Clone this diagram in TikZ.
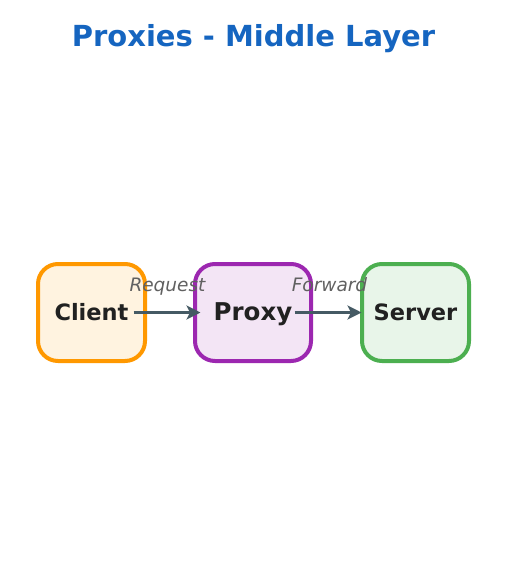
\documentclass[tikz,border=0pt]{standalone}
\usepackage{fontspec}
\setmainfont{DejaVu Sans}
\usetikzlibrary{arrows.meta}
\definecolor{titleblue}{HTML}{1565C0}
\definecolor{clientfill}{HTML}{FFF3E0}
\definecolor{clientdraw}{HTML}{FF9800}
\definecolor{proxyfill}{HTML}{F3E5F5}
\definecolor{proxydraw}{HTML}{9C27B0}
\definecolor{serverfill}{HTML}{E8F5E9}
\definecolor{serverdraw}{HTML}{4CAF50}
\definecolor{arrowcol}{HTML}{455A64}
\definecolor{textcol}{HTML}{212121}
\definecolor{lblcol}{HTML}{616161}
\tikzset{
  box/.style={draw, line width=4pt, rounded corners=20pt, inner sep=0pt,
    minimum height=97pt, text height=16pt, text depth=0pt, text=textcol,
    font=\fontsize{22.5}{27}\selectfont\bfseries},
  arr/.style={draw=arrowcol, line width=3pt, -{Stealth[length=14pt,width=14pt,inset=3.5pt]}},
  lbl/.style={text=lblcol, inner sep=0pt, anchor=base, font=\fontsize{18.5}{22}\selectfont\itshape},
}
\begin{document}
\begin{tikzpicture}[x=1pt,y=-1pt]
\useasboundingbox (0,0) rectangle (507,566);
\node[text=titleblue, font=\fontsize{29}{34}\selectfont\bfseries, inner sep=0pt, anchor=base] (title) at (253.5,46.5) {Proxies - Middle Layer};
\node[box, fill=clientfill, draw=clientdraw, minimum width=107pt] (client) at (91.5,312.5) {Client};
\node[box, fill=proxyfill, draw=proxydraw, minimum width=116pt, font=\fontsize{24.5}{29}\selectfont\bfseries] (proxy) at (253,312.5) {Proxy};
\node[box, fill=serverfill, draw=serverdraw, minimum width=107pt] (server) at (415.5,312.5) {Server};
\draw[arr, shorten <=-13.5pt, shorten >=-7.5pt] (client.east) -- (proxy.west);
\draw[arr, shorten <=-18.5pt, shorten >=-1.5pt] (proxy.east) -- (server.west);
\node[lbl] (req) at (167.5,291.5) {Request};
\node[lbl] (fwd) at (329.5,291.5) {Forward};
\end{tikzpicture}
\end{document}
